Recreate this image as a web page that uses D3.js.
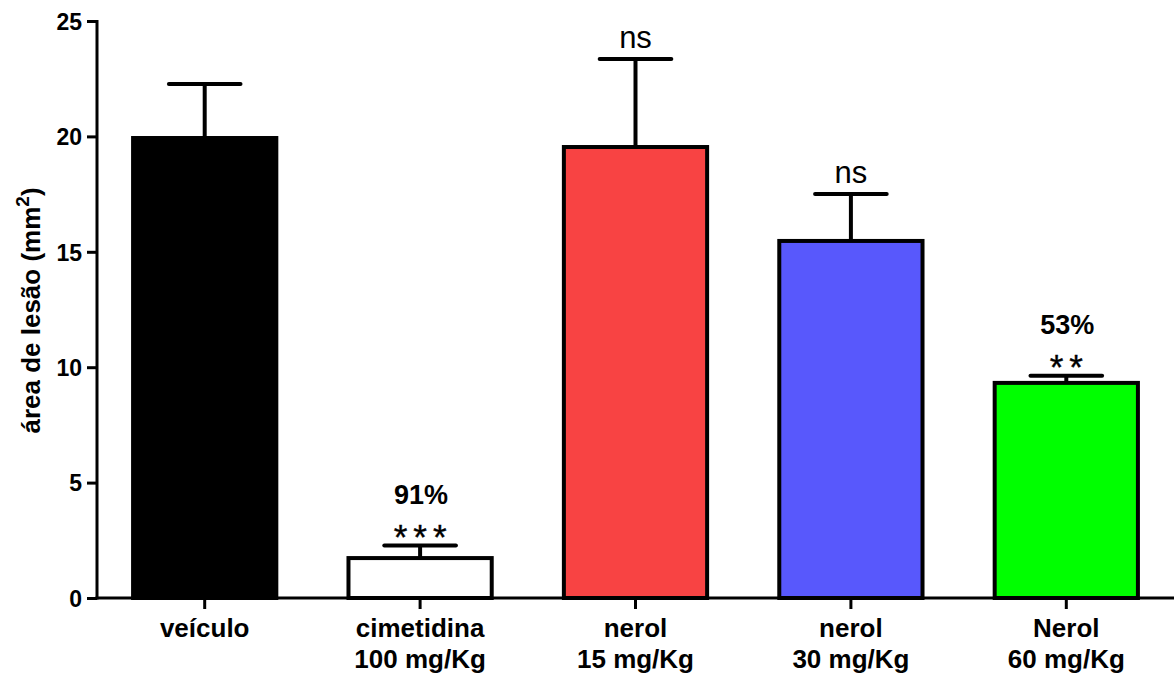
<!DOCTYPE html>
<html>
<head>
<meta charset="utf-8">
<script src="https://cdn.jsdelivr.net/npm/d3@7"></script>
<style>
  html, body { margin: 0; padding: 0; background: #fff; }
  svg { display: block; font-family: "Liberation Sans", Arial, Helvetica, sans-serif; }
</style>
</head>
<body>
<svg id="chart" width="1174" height="675"></svg>
<script>
// Groups (two-line labels), means, upper error values, fills and annotations
const groups = ["veículo", "cimetidina\n100 mg/Kg", "nerol\n15 mg/Kg", "nerol\n30 mg/Kg", "Nerol\n60 mg/Kg"];
const means = [19.93, 1.73, 19.54, 15.47, 9.32];
const upperErr = [22.27, 2.27, 23.35, 17.50, 9.63];
const fills = ["#000000", "#ffffff", "#f84343", "#5858fc", "#00ff00"];
const sigMarks = ["", "***", "ns", "ns", "**"];
const inhibition = ["", "91%", "", "", "53%"];
const yTicks = [0, 5, 10, 15, 20, 25];

const svg = d3.select("#chart");

const x = d3.scaleBand()
  .domain(groups)
  .range([97, 1174])
  .paddingInner(0.335)
  .paddingOuter(0.1675);

const y = d3.scaleLinear().domain([0, 25]).range([598, 21]);

// Bars
svg.append("g").selectAll("rect")
  .data(groups)
  .join("rect")
  .attr("x", d => x(d))
  .attr("width", x.bandwidth())
  .attr("y", (d, i) => y(means[i]))
  .attr("height", (d, i) => y(0) - y(means[i]))
  .attr("fill", (d, i) => fills[i])
  .attr("stroke", "#000")
  .attr("stroke-width", 4);

// Error bars (upper only)
const eb = svg.append("g").attr("stroke", "#000").attr("stroke-width", 4);
groups.forEach((g, i) => {
  const cx = x(g) + x.bandwidth() / 2;
  const cap = x.bandwidth() / 4;
  eb.append("line").attr("x1", cx).attr("x2", cx).attr("y1", y(means[i])).attr("y2", y(upperErr[i]));
  eb.append("line").attr("x1", cx - cap).attr("x2", cx + cap).attr("y1", y(upperErr[i])).attr("y2", y(upperErr[i]))
    .attr("stroke-linecap", "round");
});

// Significance marks and inhibition percentages
const ann = svg.append("g").attr("text-anchor", "middle").attr("fill", "#000");
groups.forEach((g, i) => {
  const cx = x(g) + x.bandwidth() / 2;
  const top = y(upperErr[i]);
  if (sigMarks[i] === "ns") {
    ann.append("text").attr("x", cx).attr("y", top - 11)
      .attr("font-size", 31).text("ns");
  } else if (sigMarks[i]) {
    ann.append("text").attr("x", cx + 3).attr("y", top + 3)
      .attr("font-size", 35).attr("letter-spacing", 6).attr("stroke", "#000").attr("stroke-width", 0.4)
      .text(sigMarks[i]);
  }
  if (inhibition[i]) {
    ann.append("text").attr("x", cx + 1).attr("y", top - 42)
      .attr("font-size", 27).attr("font-weight", "bold").text(inhibition[i]);
  }
});

// Y axis
const yAxis = svg.append("g")
  .attr("transform", "translate(97,0)")
  .call(d3.axisLeft(y).tickValues(yTicks).tickFormat(d3.format("d")).tickSize(10).tickSizeOuter(0).tickPadding(5));
yAxis.select(".domain").attr("stroke", "#000").attr("stroke-width", 3).attr("d", `M0,${y(25) - 1}V${y(0) + 1.5}`);
yAxis.selectAll(".tick line").attr("stroke", "#000").attr("stroke-width", 3);
yAxis.selectAll(".tick text")
  .attr("font-size", 23).attr("font-weight", "bold").attr("fill", "#000")
  .attr("font-family", "Liberation Sans, Arial, sans-serif")
  .attr("dy", "0.36em");

// X axis
const xAxis = svg.append("g")
  .attr("transform", `translate(0,${y(0)})`)
  .call(d3.axisBottom(x).tickSize(11).tickSizeOuter(0).tickFormat(""));
xAxis.select(".domain").attr("stroke", "#000").attr("stroke-width", 3).attr("d", "M95.5,0H1174");
xAxis.selectAll(".tick line").attr("stroke", "#000").attr("stroke-width", 3);

// Category labels, two lines each
const labels = svg.append("g").attr("text-anchor", "middle").attr("font-weight", "bold")
  .attr("font-size", 25).attr("fill", "#000");
groups.forEach(g => {
  const cx = x(g) + x.bandwidth() / 2;
  const t = labels.append("text").attr("transform", `translate(${cx},637) scale(1.04,1)`);
  g.split("\n").forEach((line, k) => {
    t.append("tspan").attr("x", 0).attr("y", k * 31).text(line);
  });
});

// Y axis title
const yt = svg.append("text")
  .attr("transform", `translate(40,${(y(0) + y(25)) / 2 + 1}) rotate(-90)`)
  .attr("text-anchor", "middle").attr("font-weight", "bold").attr("font-size", 26).attr("fill", "#000");
yt.append("tspan").text("área de lesão (mm");
yt.append("tspan").attr("font-size", 19).attr("dy", -11).text("2");
yt.append("tspan").attr("dy", 11).text(")");
</script>
</body>
</html>
